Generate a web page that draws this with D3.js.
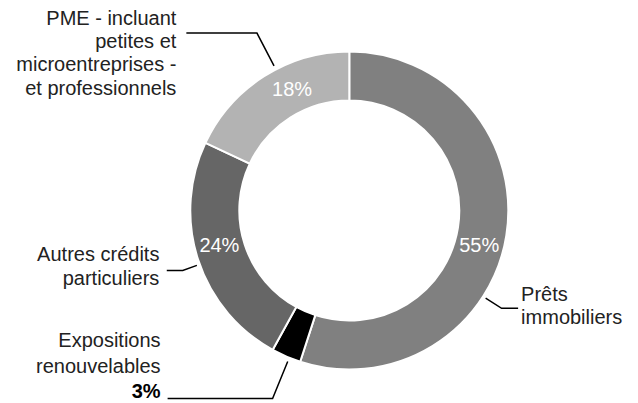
<!DOCTYPE html>
<html>
<head>
<meta charset="utf-8">
<script src="https://cdn.jsdelivr.net/npm/d3@7"></script>
<style>
  html, body { margin: 0; padding: 0; background: #fff; }
  svg { display: block; font-family: "Liberation Sans", Arial, Helvetica, sans-serif; }
</style>
</head>
<body>
<svg id="chart" width="638" height="403"></svg>
<script>
// ---- data ----
const categories = ["Prêts immobiliers", "Expositions renouvelables", "Autres crédits particuliers", "PME - incluant petites et microentreprises - et professionnels"];
const values = [55, 3, 24, 18];
const valueLabels = ["55%", "3%", "24%", "18%"];
const labelLines = [
  ["Prêts", "immobiliers"],
  ["Expositions", "renouvelables"],
  ["Autres crédits", "particuliers"],
  ["PME - incluant", "petites et", "microentreprises -", "et professionnels"]
];
const colors = ["#808080", "#000000", "#666666", "#b3b3b3"];

// ---- layout (presentation only) ----
const W = 638, H = 403;
const cx = 349.3, cy = 210.5, outerR = 159, innerR = 110;
// angle (deg, clockwise from top) for the inner % label; null = shown outside
const pctAngle = [105, null, 255, 334.8];
// leader lines: angle, start radius, elbow radius, horizontal length, side
const leader = [
  {a: 122.7, r0: 162, r1: 181, len: 16.5, side: 1, textGap: 3, firstDy: -7.7, lh: 23.3},
  {a: 202.2, r0: 163, r1: 203, len: 105, side: -1, textGap: 7, lastOnLine: true, lh: 25.5},
  {a: 250.2, r0: 162, r1: 177, len: 16, side: -1, textGap: 7.4, firstDy: -9, lh: 23.3},
  {a: 332.5, r0: 163, r1: 200, len: 70.6, side: -1, textGap: 10, firstDy: -8.3, lh: 23.3}
];

const svg = d3.select("#chart");
const g = svg.append("g").attr("transform", `translate(${cx},${cy})`);

const pie = d3.pie().sort(null).value(d => d)(values);
const arc = d3.arc().innerRadius(innerR).outerRadius(outerR);

g.selectAll("path.slice")
  .data(pie)
  .join("path")
  .attr("class", "slice")
  .attr("d", arc)
  .attr("fill", (d, i) => colors[i])
  .attr("stroke", "#fff")
  .attr("stroke-width", 2)
  .attr("stroke-linejoin", "miter");

const rad = deg => deg * Math.PI / 180;
const polar = (deg, r) => [Math.sin(rad(deg)) * r, -Math.cos(rad(deg)) * r];

// inner percentage labels
const midR = (innerR + outerR) / 2;
pie.forEach((d, i) => {
  if (pctAngle[i] == null) return;
  const [x, y] = polar(pctAngle[i], midR);
  g.append("text")
    .attr("x", x).attr("y", y)
    .attr("text-anchor", "middle")
    .attr("dominant-baseline", "central")
    .attr("fill", "#fff")
    .attr("font-size", 20)
    .text(valueLabels[i]);
});

// leader lines and outside labels
leader.forEach((L, i) => {
  const p0 = polar(L.a, L.r0);
  const p1 = polar(L.a, L.r1);
  const p2 = [p1[0] + L.side * L.len, p1[1]];
  g.append("path")
    .attr("d", d3.line()([p0, p1, p2]))
    .attr("fill", "none")
    .attr("stroke", "#000")
    .attr("stroke-width", 1.5);

  const tx = p2[0] + L.side * L.textGap;
  const lines = labelLines[i].slice();
  const t = g.append("text")
    .attr("text-anchor", L.side > 0 ? "start" : "end")
    .attr("font-size", 20)
    .attr("fill", "#222");
  if (L.lastOnLine) {
    // category lines above, bold value on the leader line
    const all = lines.concat([valueLabels[i]]);
    all.forEach((s, k) => {
      t.append("tspan")
        .attr("x", tx)
        .attr("y", p2[1] - (all.length - 1 - k) * L.lh)
        .attr("font-weight", k === all.length - 1 ? "bold" : null)
        .attr("fill", k === all.length - 1 ? "#000" : null)
        .text(s);
    });
  } else {
    lines.forEach((s, k) => {
      t.append("tspan")
        .attr("x", tx)
        .attr("y", p2[1] + L.firstDy + k * L.lh)
        .text(s);
    });
  }
});
</script>
</body>
</html>
